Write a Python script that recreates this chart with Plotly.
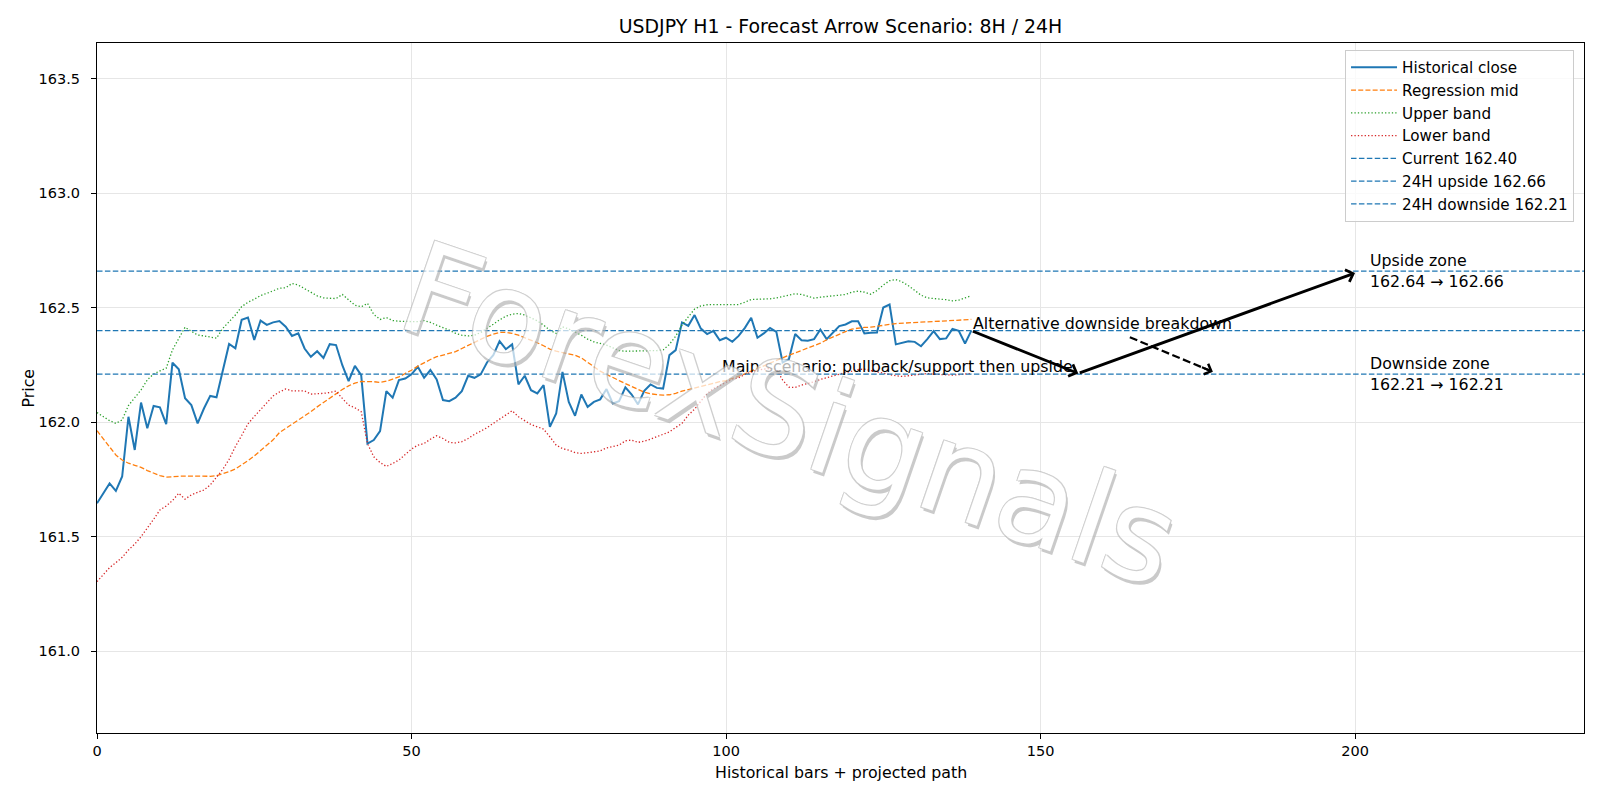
import plotly.graph_objects as go

# ---------------- data ----------------
close = [161.646, 161.69, 161.733, 161.70, 161.763, 162.024, 161.879, 162.086, 161.974, 162.071,
         162.065, 161.992, 162.26, 162.231, 162.105, 162.075, 161.995, 162.06, 162.115, 162.109,
         162.228, 162.342, 162.323, 162.447, 162.457, 162.359, 162.444, 162.425, 162.436, 162.442,
         162.417, 162.377, 162.388, 162.322, 162.286, 162.31, 162.281, 162.341, 162.337, 162.249,
         162.18, 162.246, 162.206, 161.907, 161.922, 161.961, 162.136, 162.107, 162.184, 162.191,
         162.209, 162.242, 162.194, 162.228, 162.187, 162.097, 162.092, 162.107, 162.136, 162.203,
         162.194, 162.209, 162.261, 162.293, 162.354, 162.319, 162.34, 162.165, 162.203, 162.14,
         162.126, 162.162, 161.98, 162.038, 162.22, 162.089, 162.028, 162.121, 162.067, 162.089,
         162.1, 162.145, 162.082, 162.092, 162.152, 162.121, 162.078, 162.137, 162.165, 162.15,
         162.147, 162.293, 162.315, 162.436, 162.421, 162.468, 162.409, 162.385, 162.399, 162.358,
         162.369, 162.351, 162.377, 162.412, 162.456, 162.369, 162.388, 162.412, 162.395, 162.261,
         162.276, 162.385, 162.358, 162.356, 162.363, 162.405, 162.363, 162.391, 162.42, 162.427,
         162.441, 162.441, 162.388, 162.391, 162.392, 162.501, 162.514, 162.34, 162.348, 162.354,
         162.351, 162.332, 162.363, 162.398, 162.363, 162.366, 162.407, 162.399, 162.344, 162.40]

upper = [162.042, 162.025, 162.007, 161.995, 162.01, 162.073, 162.109, 162.141, 162.185, 162.211,
         162.224, 162.236, 162.316, 162.367, 162.415, 162.397, 162.381, 162.377, 162.372, 162.367,
         162.41, 162.439, 162.468, 162.505, 162.524, 162.537, 162.553, 162.563, 162.575, 162.585,
         162.587, 162.606, 162.599, 162.584, 162.57, 162.552, 162.543, 162.54, 162.54, 162.558,
         162.533, 162.511, 162.504, 162.519, 162.471, 162.449, 162.457, 162.444, 162.441, 162.44,
         162.439, 162.439, 162.444, 162.436, 162.424, 162.414, 162.402, 162.388, 162.38, 162.377,
         162.38, 162.392, 162.409, 162.428, 162.447, 162.463, 162.472, 162.475, 162.468, 162.457,
         162.443, 162.424, 162.402, 162.388, 162.417, 162.407, 162.395, 162.38, 162.363, 162.351,
         162.344, 162.337, 162.325, 162.313, 162.31, 162.31, 162.31, 162.31, 162.313, 162.313,
         162.316, 162.34, 162.376, 162.424, 162.46, 162.494, 162.508, 162.513, 162.514, 162.514,
         162.513, 162.511, 162.514, 162.524, 162.536, 162.537, 162.537, 162.539, 162.543, 162.55,
         162.555, 162.561, 162.558, 162.55, 162.542, 162.546, 162.548, 162.551, 162.555, 162.558,
         162.568, 162.572, 162.568, 162.559, 162.575, 162.599, 162.618, 162.623, 162.613, 162.596,
         162.574, 162.555, 162.543, 162.54, 162.54, 162.535, 162.53, 162.533, 162.543, 162.552]

mid = [161.963, 161.926, 161.891, 161.857, 161.835, 161.821, 161.812, 161.803, 161.789, 161.777,
       161.767, 161.76, 161.763, 161.764, 161.765, 161.764, 161.763, 161.763, 161.764, 161.767,
       161.774, 161.784, 161.796, 161.813, 161.832, 161.853, 161.875, 161.898, 161.923, 161.955,
       161.973, 161.992, 162.011, 162.028, 162.046, 162.067, 162.086, 162.107, 162.126, 162.143,
       162.159, 162.171, 162.178, 162.179, 162.177, 162.174, 162.179, 162.188, 162.198, 162.213,
       162.227, 162.245, 162.261, 162.274, 162.286, 162.293, 162.299, 162.308, 162.322, 162.336,
       162.35, 162.363, 162.375, 162.385, 162.392, 162.392, 162.388, 162.38, 162.37, 162.358,
       162.347, 162.334, 162.319, 162.31, 162.305, 162.297, 162.293, 162.281, 162.261, 162.242,
       162.223, 162.209, 162.197, 162.182, 162.169, 162.156, 162.143, 162.131, 162.124, 162.12,
       162.118, 162.12, 162.126, 162.136, 162.143, 162.15, 162.158, 162.165, 162.171, 162.177,
       162.182, 162.191, 162.201, 162.211, 162.223, 162.235, 162.246, 162.26, 162.271, 162.281,
       162.293, 162.303, 162.313, 162.324, 162.334, 162.345, 162.36, 162.373, 162.385, 162.396,
       162.407, 162.411, 162.414, 162.415, 162.418, 162.423, 162.427, 162.431, 162.433, 162.434,
       162.436, 162.437, 162.439, 162.44, 162.441, 162.443, 162.444, 162.446, 162.447, 162.449]

lower = [161.304, 161.337, 161.365, 161.387, 161.41, 161.442, 161.468, 161.5, 161.537, 161.576,
         161.617, 161.634, 161.658, 161.69, 161.664, 161.683, 161.694, 161.704, 161.726, 161.76,
         161.794, 161.838, 161.894, 161.942, 161.993, 162.025, 162.054, 162.087, 162.115, 162.132,
         162.145, 162.137, 162.137, 162.137, 162.123, 162.123, 162.126, 162.13, 162.136, 162.104,
         162.075, 162.063, 162.046, 161.907, 161.849, 161.824, 161.807, 161.82, 161.835, 161.859,
         161.883, 161.9, 161.907, 161.926, 161.941, 161.929, 161.912, 161.91, 161.915, 161.929,
         161.947, 161.961, 161.976, 161.995, 162.013, 162.031, 162.05, 162.024, 162.005, 161.99,
         161.98, 161.97, 161.936, 161.9, 161.885, 161.878, 161.867, 161.864, 161.867, 161.871,
         161.875, 161.888, 161.893, 161.9, 161.919, 161.922, 161.912, 161.917, 161.926, 161.936,
         161.947, 161.958, 161.977, 161.995, 162.031, 162.057, 162.092, 162.126, 162.147, 162.162,
         162.174, 162.188, 162.194, 162.209, 162.22, 162.228, 162.232, 162.235, 162.232, 162.184,
         162.153, 162.152, 162.162, 162.169, 162.177, 162.187, 162.195, 162.201, 162.208, 162.217,
         162.223, 162.23, 162.232, 162.226, 162.217, 162.213, 162.208, 162.203, 162.2, 162.203,
         162.206, 162.21, 162.213, 162.21, 162.208, 162.206, 162.206, 162.208, 162.21, 162.213]

bars = list(range(len(close)))

current_level = 162.40
upside_level = 162.66
downside_level = 162.21
upside_zone = (162.64, 162.66)
downside_zone = (162.21, 162.21)

# scenario path points (bar index, price)
main_path_x = [139, 156, 200]
main_path_y = [162.40, 162.213, 162.652]
alt_path_x = [164.2, 177.4]
alt_path_y = [162.371, 162.22]

x_range = [0, 236.4]
y_range = [160.643, 163.656]
y_ticks = [161.0, 161.5, 162.0, 162.5, 163.0, 163.5]
x_ticks = [0, 50, 100, 150, 200]

FONT = "DejaVu Sans"
BLUE = "#1f77b4"
TXT = 15.8

fig = go.Figure()

def add_line(x, y, name, color, width, dash):
    fig.add_trace(go.Scatter(x=x, y=y, mode="lines", name=name,
                             line=dict(color=color, width=width, dash=dash)))

add_line(bars, close, "Historical close", BLUE, 2.0, "solid")
add_line(bars, mid, "Regression mid", "#ff7f0e", 1.3, "5px,2.2px")
add_line(bars, upper, "Upper band", "#2ca02c", 1.3, "1.3px,2.1px")
add_line(bars, lower, "Lower band", "#d62728", 1.3, "1.3px,2.1px")
add_line(x_range, [current_level] * 2, f"Current {current_level:.2f}", BLUE, 1.3, "5.5px,2.4px")
add_line(x_range, [upside_level] * 2, f"24H upside {upside_level:.2f}", BLUE, 1.3, "5.5px,2.4px")
add_line(x_range, [downside_level] * 2, f"24H downside {downside_level:.2f}", BLUE, 1.3, "5.5px,2.4px")

# dashed alternative path (line part)
fig.add_trace(go.Scatter(x=alt_path_x, y=alt_path_y, mode="lines", showlegend=False,
                         line=dict(color="black", width=2.2, dash="8px,3.5px"), hoverinfo="skip"))

annotations = []
# main path arrows
for i in range(len(main_path_x) - 1):
    annotations.append(dict(x=main_path_x[i + 1], y=main_path_y[i + 1], ax=main_path_x[i], ay=main_path_y[i],
                            xref="x", yref="y", axref="x", ayref="y", text="", showarrow=True,
                            arrowhead=4, arrowsize=0.85, arrowwidth=2.9, arrowcolor="black"))
# alternative arrow head
dx = alt_path_x[1] - alt_path_x[0]
dy = alt_path_y[1] - alt_path_y[0]
annotations.append(dict(x=alt_path_x[1], y=alt_path_y[1], ax=alt_path_x[1] - dx * 0.15, ay=alt_path_y[1] - dy * 0.15,
                        xref="x", yref="y", axref="x", ayref="y", text="", showarrow=True,
                        arrowhead=4, arrowsize=1.0, arrowwidth=2.2, arrowcolor="black"))

txt_font = dict(family=FONT, size=TXT, color="black")
annotations.append(dict(x=99, y=downside_level, xref="x", yref="y", text="Main scenario: pullback/support then upside",
                        showarrow=False, xanchor="left", yanchor="bottom", yshift=-4, font=txt_font))
annotations.append(dict(x=139, y=current_level, xref="x", yref="y", text="Alternative downside breakdown",
                        showarrow=False, xanchor="left", yanchor="bottom", yshift=-4, font=txt_font))
annotations.append(dict(x=202, y=upside_level, xref="x", yref="y",
                        text=f"Upside zone<br>{upside_zone[0]:.2f} → {upside_zone[1]:.2f}",
                        showarrow=False, xanchor="left", yanchor="middle", align="left", font=txt_font))
annotations.append(dict(x=202, y=downside_level, xref="x", yref="y",
                        text=f"Downside zone<br>{downside_zone[0]:.2f} → {downside_zone[1]:.2f}",
                        showarrow=False, xanchor="left", yanchor="middle", align="left", font=txt_font))

# axis titles
annotations.append(dict(x=0, y=0.5, xref="paper", yref="paper", text="Price", textangle=-90,
                        showarrow=False, xanchor="center", yanchor="middle", xshift=-69.5, font=txt_font))
annotations.append(dict(x=0.5, y=0, xref="paper", yref="paper", text="Historical bars + projected path",
                        showarrow=False, xanchor="center", yanchor="middle", yshift=-39, font=txt_font))

# watermark
annotations.append(dict(x=0.466, y=0.461, xref="paper", yref="paper", text="ForexSignals", textangle=19,
                        showarrow=False, xanchor="center", yanchor="middle", opacity=0.7,
                        font=dict(family=FONT, size=128, color="white",
                                  shadow="3px 3px 0 #b4b4b4, -1px -1px 0 #bdbdbd, 1px -1px 0 #bdbdbd, -1px 1px 0 #bdbdbd, 1px 1px 0 #bdbdbd")))

axis_common = dict(showline=True, linecolor="black", linewidth=1, mirror=True,
                   ticks="outside", ticklen=5, tickwidth=1, tickcolor="black",
                   showgrid=True, gridcolor="#e6e6e6", gridwidth=1, zeroline=False,
                   tickfont=dict(family=FONT, size=14.5, color="black"))

fig.update_layout(
    width=1600, height=800,
    margin=dict(l=97, r=16, t=43, b=67),
    paper_bgcolor="white", plot_bgcolor="white",
    title=dict(text="USDJPY H1 - Forecast Arrow Scenario: 8H / 24H", x=0.5, xref="paper", xanchor="center",
               y=1 - 26.5 / 800, yref="container", yanchor="middle",
               font=dict(family=FONT, size=18.9, color="black")),
    xaxis=dict(range=x_range, tickvals=x_ticks, **axis_common),
    yaxis=dict(range=y_range, tickvals=y_ticks, tickformat=".1f", ticklabelstandoff=8, **axis_common),
    legend=dict(x=0.9933, y=0.99, xanchor="right", yanchor="top", bgcolor="rgba(255,255,255,0.8)",
                bordercolor="#cccccc", borderwidth=1, font=dict(family=FONT, size=15.2, color="black"),
                tracegroupgap=0, itemwidth=46),
    annotations=annotations,
    showlegend=True,
)

fig.write_html("out.html")
